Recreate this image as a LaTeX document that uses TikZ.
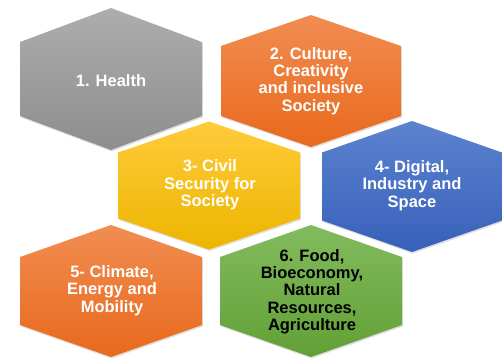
\documentclass[tikz,border=0pt]{standalone}
\usepackage{fontspec}
\setmainfont{Liberation Sans}
\usetikzlibrary{shadows}
\definecolor{grayT}{HTML}{ADADAD}
\definecolor{grayB}{HTML}{8E8E8E}
\definecolor{orT}{HTML}{F18D52}
\definecolor{orB}{HTML}{E8691C}
\definecolor{yeT}{HTML}{FFCB3A}
\definecolor{yeB}{HTML}{EDB500}
\definecolor{blT}{HTML}{5C83CF}
\definecolor{blB}{HTML}{3760BA}
\definecolor{grT}{HTML}{82BB5E}
\definecolor{grB}{HTML}{62A036}
\newcommand\hexshape[7]{% cx cy hw hh hs topcolor bottomcolor
  \shade[top color=#6, bottom color=#7,
    drop shadow={opacity=0.25, shadow xshift=0.8pt, shadow yshift=-1.5pt}]
    (#1,#2-#4) -- (#1+#3,#2-#5) -- (#1+#3,#2+#5) -- (#1,#2+#4)
    -- (#1-#3,#2+#5) -- (#1-#3,#2-#5) -- cycle;}
\begin{document}
\begin{tikzpicture}[x=1pt,y=-1pt,
  hexlabel/.style={align=center, inner sep=0pt, text=white,
    font=\fontsize{16.5}{17.3}\selectfont\bfseries},
  darklabel/.style={hexlabel, text=black}]
\useasboundingbox (0,0) rectangle (502,362);
\hexshape{111}{79}{91}{71}{37}{grayT}{grayB}
\hexshape{311}{81}{90}{66}{35}{orT}{orB}
\hexshape{209}{185.5}{91}{64}{33}{yeT}{yeB}
\hexshape{412}{186.5}{90}{65.5}{34}{blT}{blB}
\hexshape{111}{291}{91}{66}{34}{orT}{orB}
\hexshape{311}{291}{91}{66}{34}{grT}{grB}
\node[hexlabel] (h1) at (111,81) {1. Health};
\node[hexlabel] (h2) at (311,81) {2. Culture,\\Creativity\\and inclusive\\Society};
\node[hexlabel] (h3) at (210,185) {3- Civil\\Security for\\Society};
\node[hexlabel] (h4) at (412,185.5) {4- Digital,\\Industry and\\Space};
\node[hexlabel] (h5) at (112,290.5) {5- Climate,\\Energy and\\Mobility};
\node[darklabel] (h6) at (312,291.5) {6. Food,\\Bioeconomy,\\Natural\\Resources,\\Agriculture};
\end{tikzpicture}
\end{document}
